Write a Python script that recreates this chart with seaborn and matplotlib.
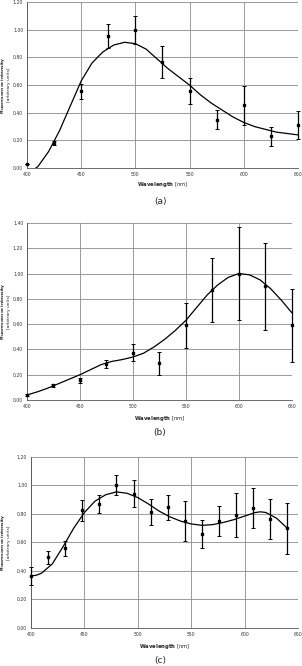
import numpy as np
import pandas as pd
import seaborn as sns
import matplotlib.pyplot as plt

sns.set_style("white")
plt.rcParams['font.family'] = ['DejaVu Sans']

# Panel (a) measured points and fitted curve
a_wl = [400, 425, 450, 475, 500, 525, 550, 575, 600, 625, 650]
a_val = [0.03, 0.18, 0.555, 0.955, 1.00, 0.765, 0.555, 0.35, 0.455, 0.23, 0.31]
a_err = [0.0, 0.015, 0.055, 0.085, 0.10, 0.115, 0.095, 0.07, 0.14, 0.07, 0.10]
a_fit_wl = [408, 410, 420, 430, 440, 450, 460, 470, 480, 490, 500, 510, 520, 530, 540,
            550, 560, 570, 580, 590, 600, 610, 620, 630, 640, 650]
a_fit = [0.00, 0.01, 0.12, 0.27, 0.45, 0.63, 0.76, 0.84, 0.89, 0.91, 0.90, 0.86, 0.79,
         0.72, 0.66, 0.60, 0.53, 0.47, 0.42, 0.37, 0.33, 0.30, 0.28, 0.26, 0.25, 0.24]

# Panel (b)
b_wl = [400, 425, 450, 475, 500, 525, 550, 575, 600, 625, 650]
b_val = [0.04, 0.115, 0.155, 0.285, 0.375, 0.29, 0.59, 0.87, 1.00, 0.90, 0.59]
b_err = [0.01, 0.015, 0.02, 0.03, 0.065, 0.09, 0.175, 0.25, 0.37, 0.345, 0.29]
b_fit_wl = [400, 410, 420, 430, 440, 450, 460, 470, 480, 490, 500, 510, 520, 530, 540,
            550, 560, 570, 580, 590, 600, 610, 620, 630, 640, 650]
b_fit = [0.04, 0.065, 0.095, 0.13, 0.165, 0.20, 0.24, 0.28, 0.305, 0.32, 0.34, 0.37, 0.42,
         0.48, 0.55, 0.63, 0.73, 0.83, 0.91, 0.97, 1.00, 0.99, 0.95, 0.88, 0.79, 0.69]

# Panel (c)
c_wl = [400, 416, 432, 448, 464, 480, 496, 512, 528, 544, 560, 576, 592, 608, 624, 640]
c_val = [0.363, 0.495, 0.558, 0.825, 0.87, 1.005, 0.942, 0.813, 0.846, 0.748, 0.66,
         0.75, 0.79, 0.841, 0.764, 0.70]
c_err = [0.065, 0.045, 0.055, 0.075, 0.065, 0.07, 0.095, 0.09, 0.085, 0.14, 0.10,
         0.105, 0.155, 0.14, 0.14, 0.18]
c_fit_wl = [400, 405, 410, 420, 430, 440, 450, 460, 470, 480, 490, 500, 510, 520, 530,
            540, 550, 560, 570, 580, 590, 600, 610, 615, 620, 630, 640]
c_fit = [0.365, 0.37, 0.385, 0.45, 0.57, 0.70, 0.81, 0.89, 0.935, 0.955, 0.945, 0.915,
         0.87, 0.82, 0.78, 0.75, 0.73, 0.72, 0.725, 0.74, 0.76, 0.785, 0.81, 0.815, 0.81,
         0.77, 0.70]

# label, data..., ymax, axes rect, y of panel letter, offset of x label
panels = [
    ('(a)', a_wl, a_val, a_err, a_fit_wl, a_fit, 1.20, [0.0894, 0.7477, 0.897, 0.249], 0.698, 0.097),
    ('(b)', b_wl, b_val, b_err, b_fit_wl, b_fit, 1.40, [0.0894, 0.3994, 0.877, 0.2658], 0.350, 0.103),
    ('(c)', c_wl, c_val, c_err, c_fit_wl, c_fit, 1.20, [0.1026, 0.0571, 0.884, 0.2568], 0.009, 0.106),
]

fig = plt.figure(figsize=(3.02, 6.66), dpi=100)

for label, wl, val, err, fwl, fit, ymax, rect, ylab, xoff in panels:
    ax = fig.add_axes(rect)
    fit_df = pd.DataFrame({'wl': fwl, 'fit': fit})
    sns.lineplot(data=fit_df, x='wl', y='fit', ax=ax, color='black', lw=0.9, zorder=3)
    eb = ax.errorbar(wl, val, yerr=err, fmt='s', ms=2, color='black', ecolor='black',
                     elinewidth=0.9, capsize=1.2, capthick=0.7, zorder=4)
    for art in eb.get_children():
        art.set_clip_on(False)
    ax.set_xlim(400, 650)
    ax.set_ylim(0, ymax)
    yt = np.arange(0, ymax + 0.01, 0.2)
    ax.set_xticks(np.arange(400, 651, 50))
    ax.set_yticks(yt)
    ax.set_yticklabels([f'{v:.2f}' for v in yt])
    ax.grid(True, color='#8c8c8c', lw=0.6)
    ax.set_axisbelow(True)
    for s in ['top', 'right']:
        ax.spines[s].set_visible(False)
    for s in ['left', 'bottom']:
        ax.spines[s].set_color('#555555')
        ax.spines[s].set_linewidth(0.6)
    ax.tick_params(labelsize=3.3, length=1.5, width=0.5, pad=1.2, colors='#333333')
    ax.set_xlabel('')
    ax.set_ylabel('')
    ax.text(0.5, -xoff, r'$\bf{Wavelength}$ [nm]', transform=ax.transAxes,
            ha='center', va='center', fontsize=3.8)
    cy = rect[1] + rect[3] / 2
    fig.text(0.016, cy, r'$\bf{Fluorescence\ intensity}$' + '\n[arbitrary units]',
             ha='center', va='center', rotation=90, fontsize=3.2, linespacing=1.05)
    fig.text(0.53, ylab, label, ha='center', va='center', fontsize=6.5)

fig.savefig('out.png', dpi=100)
